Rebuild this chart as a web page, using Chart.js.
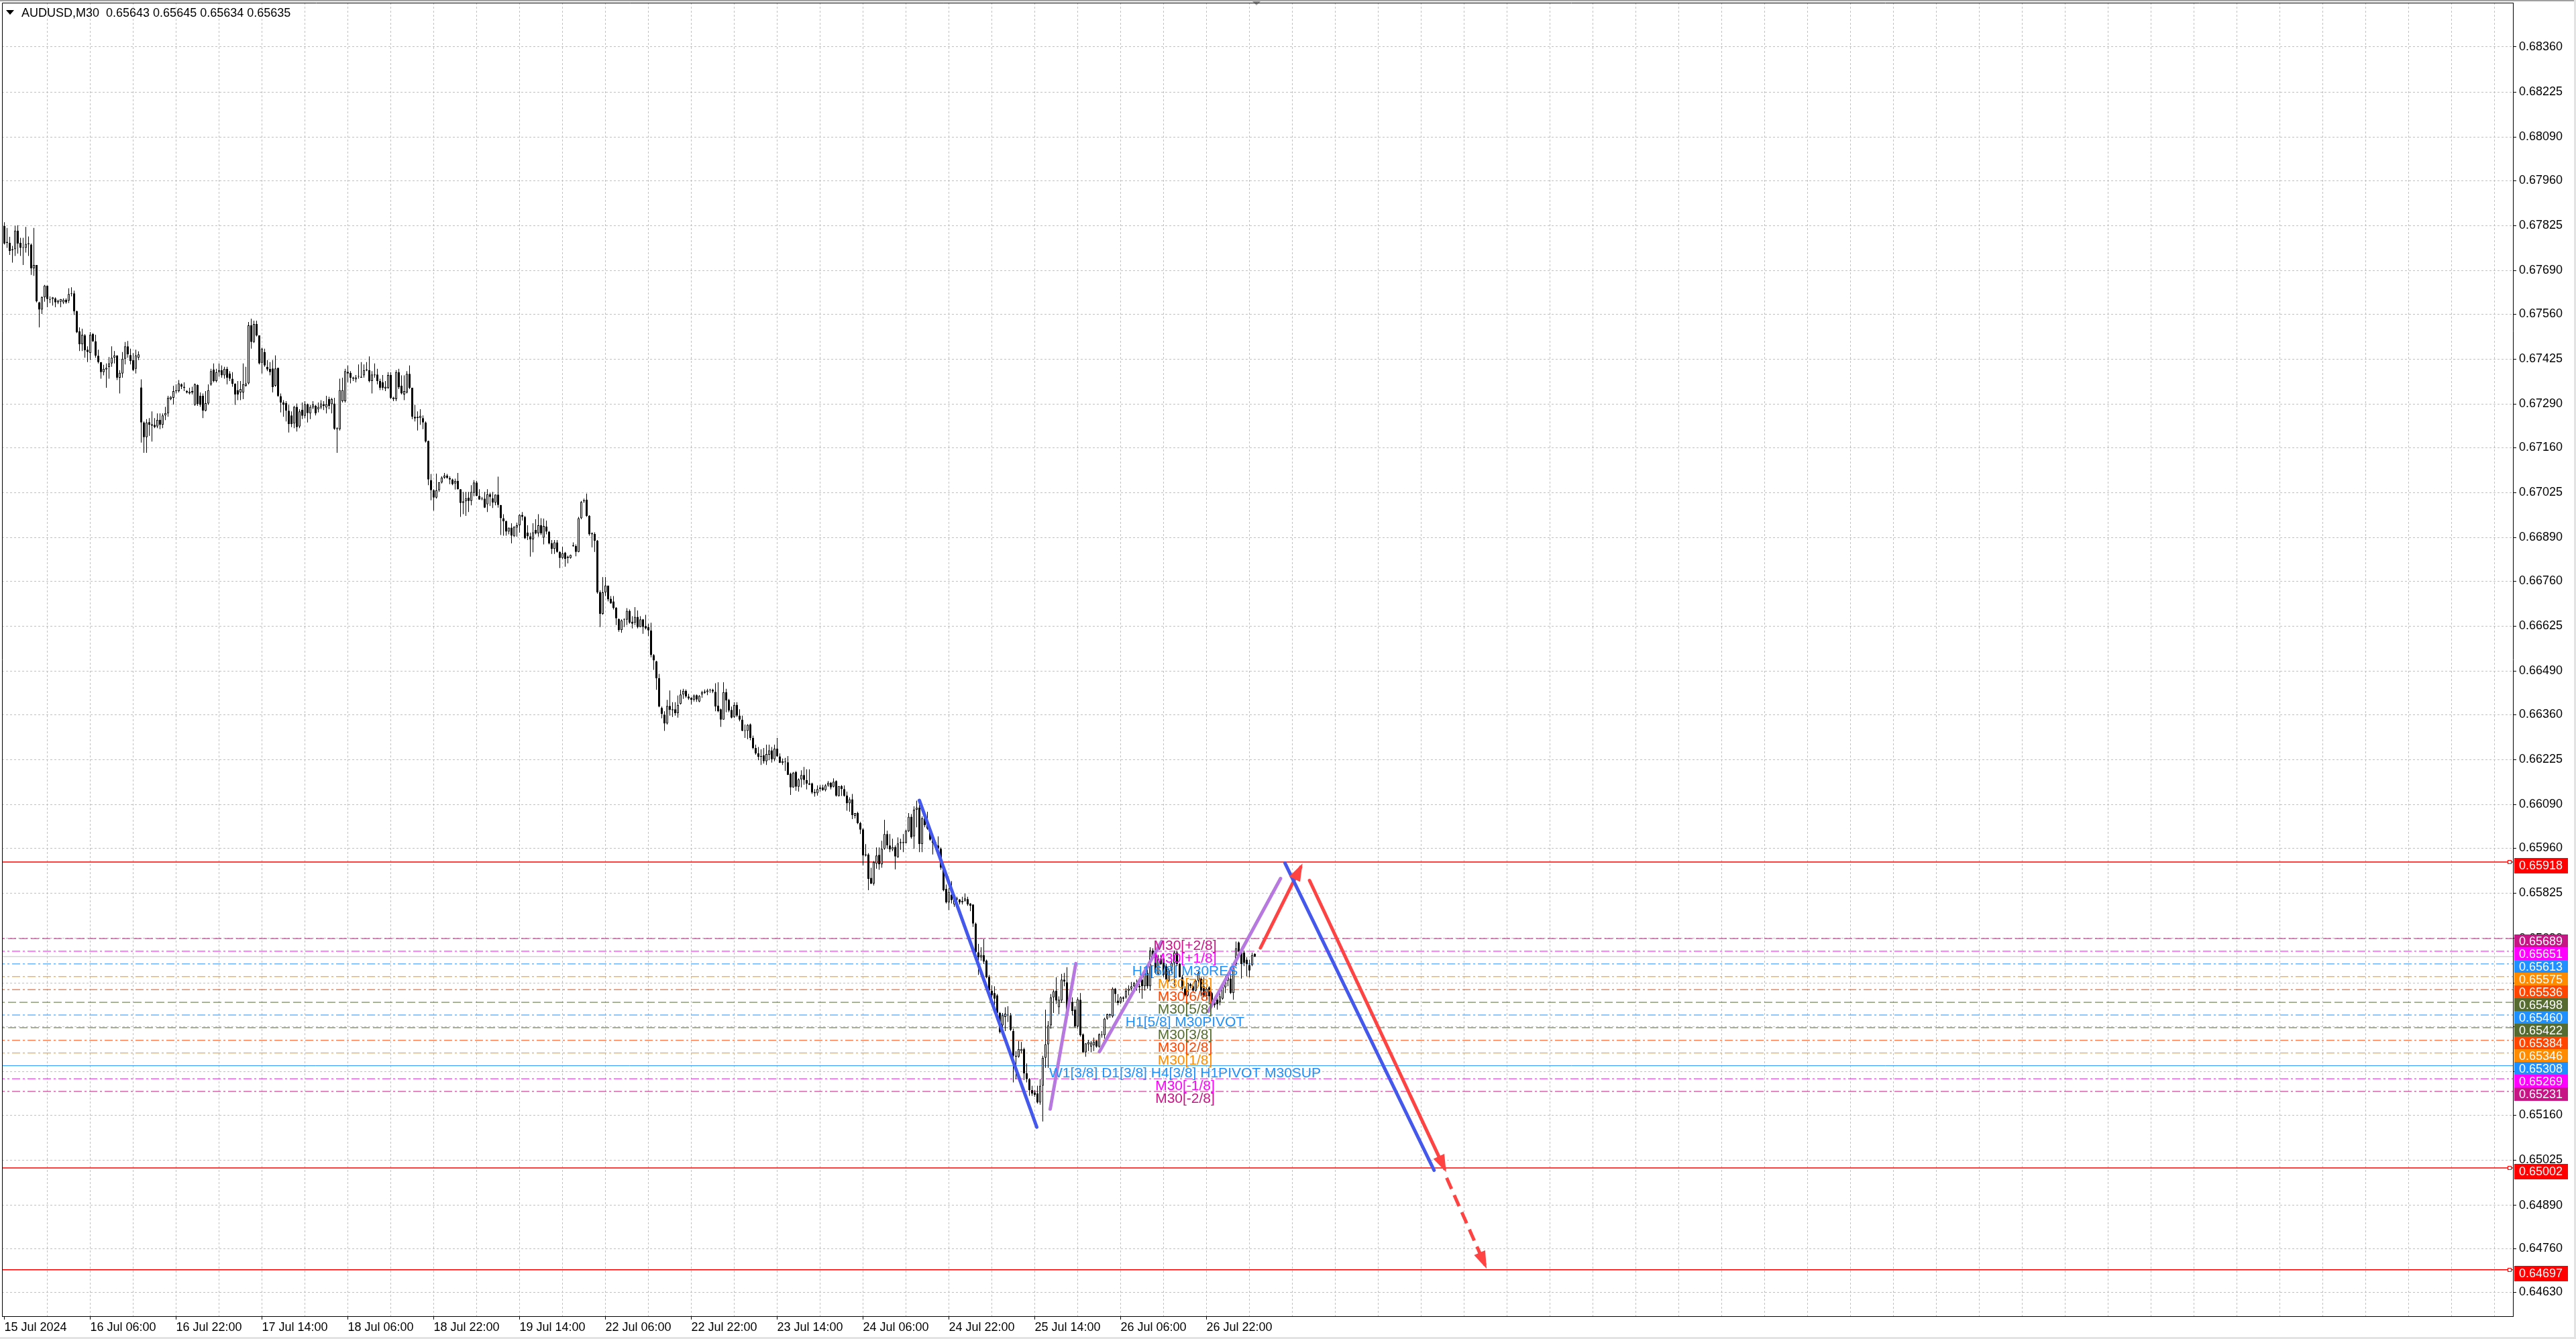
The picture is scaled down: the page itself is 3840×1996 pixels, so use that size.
<!DOCTYPE html>
<html>
<head>
<meta charset="utf-8">
<title>AUDUSD,M30</title>
<script src="https://cdn.jsdelivr.net/npm/chart.js@4.4.1/dist/chart.umd.min.js"></script>
<style>
  html, body { margin: 0; padding: 0; background: #ffffff; overflow: hidden; }
  canvas { display: block; }
</style>
</head>
<body>
<canvas id="chart" width="3840" height="1996"></canvas>
<script>
/* ==========================================================
   DATA
   ========================================================== */

const symbolTitle = "AUDUSD,M30";

// one label every 32 bars, starting at bar 0
const timeLabels = [
    "15 Jul 2024", "16 Jul 06:00", "16 Jul 22:00", "17 Jul 14:00", "18 Jul 06:00",
    "18 Jul 22:00", "19 Jul 14:00", "22 Jul 06:00", "22 Jul 22:00", "23 Jul 14:00",
    "24 Jul 06:00", "24 Jul 22:00", "25 Jul 14:00", "26 Jul 06:00", "26 Jul 22:00"
];

const priceTicks = [
    0.68360, 0.68225, 0.68090, 0.67960, 0.67825, 0.67690, 0.67560, 0.67425,
    0.67290, 0.67160, 0.67025, 0.66890, 0.66760, 0.66625, 0.66490, 0.66360,
    0.66225, 0.66090, 0.65960, 0.65825, 0.65690, 0.65555, 0.65425, 0.65290,
    0.65160, 0.65025, 0.64890, 0.64760, 0.64630
];

// M30 candles, prices in points (1 point = 0.00001)
const opens = [
    67824,67773,67773,67751,67754,67810,67773,67758,67758,67770,
    67768,67697,67707,67595,67573,67610,67645,67605,67605,67607,
    67595,67597,67595,67603,67600,67620,67622,67568,67508,67469,
    67496,67453,67443,67500,67478,67435,67416,67386,67394,67401,
    67412,67429,67436,67369,67382,67426,67463,67437,67422,67396,
    67429,67340,67235,67191,67236,67225,67228,67223,67243,67228,
    67256,67262,67305,67309,67329,67329,67349,67342,67329,67322,
    67329,67288,67347,67315,67315,67270,67292,67349,67394,67359,
    67386,67392,67376,67396,67382,67366,67351,67332,67325,67325,
    67345,67352,67526,67476,67530,67496,67414,67446,67402,67396,
    67397,67345,67399,67314,67295,67293,67270,67256,67232,67282,
    67223,67273,67255,67290,67262,67280,67285,67274,67280,67290,
    67280,67305,67290,67292,67218,67215,67299,67299,67387,67384,
    67369,67364,67372,67369,67376,67391,67392,67359,67379,67379,
    67359,67355,67337,67339,67377,67305,67305,67386,67345,67319,
    67325,67381,67339,67252,67248,67248,67248,67235,67180,67062,
    67032,67010,67032,67055,67070,67076,67069,67064,67052,67060,
    67035,66994,66999,67010,67000,67024,67055,67015,67007,67007,
    66990,67020,67008,66995,67019,66988,66948,66939,66908,66920,
    66894,66920,66927,66958,66952,66905,66894,66885,66913,66903,
    66927,66890,66923,66908,66874,66856,66876,66847,66829,66845,
    66833,66829,66866,66865,66847,66948,66999,67004,66955,66900,
    66901,66881,66727,66662,66726,66746,66707,66699,66680,66646,
    66613,66646,66644,66671,66638,66635,66653,66622,66645,66625,
    66622,66612,66538,66519,66469,66380,66360,66333,66386,66376,
    66376,66364,66392,66420,66431,66414,66410,66404,66418,66399,
    66420,66425,66427,66432,66434,66428,66387,66376,66345,66427,
    66404,66374,66353,66389,66357,66345,66313,66311,66330,66290,
    66260,66244,66233,66238,66220,66240,66253,66226,66258,66235,
    66215,66217,66217,66183,66142,66188,66144,66166,66179,66164,
    66154,66154,66128,66124,66137,66142,66134,66148,66156,66144,
    66161,66116,66146,66137,66117,66094,66106,66057,66065,66035,
    66016,65938,65941,65871,65854,65913,65940,65911,65958,66002,
    65968,65956,65963,65933,65978,65975,65975,66010,66054,65995,
    66075,66081,65972,66049,66029,66018,65985,65978,65968,65958,
    65901,65838,65797,65821,65791,65806,65806,65797,65802,65807,
    65794,65791,65734,65648,65633,65639,65623,65574,65533,65526,
    65519,65466,65429,65454,65459,65459,65412,65338,65335,65352,
    65358,65285,65268,65235,65228,65225,65198,65248,65332,65372,
    65429,65513,65533,65483,65503,65566,65558,65513,65499,65476,
    65426,65506,65402,65348,65372,65365,65369,65382,65365,65399,
    65399,65449,65459,65456,65539,65503,65499,65513,65513,65533,
    65539,65546,65556,65543,65566,65546,65586,65546,65653,65640,
    65583,65630,65630,65606,65563,65593,65616,65647,65613,65573,
    65539,65519,65553,65546,65533,65563,65569,65546,65516,65543,
    65526,65499,65506,65499,65509,65543,65563,65569,65526,65613,
    65677,65650,65647,65626,65610,65610,65643
];

const highs = [
    67835,67818,67791,67764,67824,67826,67788,67788,67821,67792,
    67771,67818,67707,67597,67613,67647,67645,67613,67611,67610,
    67603,67605,67607,67607,67637,67640,67630,67570,67520,67516,
    67500,67463,67506,67503,67498,67453,67416,67408,67412,67431,
    67463,67449,67436,67392,67446,67476,67479,67456,67443,67453,
    67448,67364,67238,67245,67248,67268,67248,67262,67262,67262,
    67282,67315,67314,67345,67349,67362,67352,67355,67332,67339,
    67342,67352,67349,67325,67322,67329,67349,67396,67412,67396,
    67412,67406,67402,67402,67389,67386,67352,67359,67359,67412,
    67402,67536,67546,67540,67540,67496,67459,67456,67422,67416,
    67422,67436,67399,67322,67302,67299,67288,67268,67285,67292,
    67275,67295,67299,67292,67288,67299,67288,67295,67302,67299,
    67315,67312,67309,67309,67221,67366,67369,67396,67406,67389,
    67372,67377,67409,67416,67409,67416,67433,67389,67412,67396,
    67366,67377,67359,67386,67386,67312,67392,67396,67376,67376,
    67389,67406,67339,67288,67268,67275,67256,67238,67181,67081,
    67035,67082,67056,67074,67084,67081,67074,67067,67067,67084,
    67035,67027,67027,67027,67047,67062,67060,67035,67012,67027,
    67035,67024,67027,67019,67073,66988,66960,66941,66920,66933,
    66923,66935,66960,66967,66955,66927,66905,66933,66945,66960,
    66948,66947,66941,66910,66883,66883,66883,66849,66863,66847,
    66836,66839,66876,66870,66952,67000,67007,67022,66957,66906,
    66906,66883,66732,66772,66772,66746,66715,66715,66682,66648,
    66645,66648,66679,66675,66655,66682,66672,66655,66646,66659,
    66632,66635,66541,66521,66482,66384,66370,66404,66432,66397,
    66397,66417,66434,66437,66435,66422,66412,66420,66420,66418,
    66431,66435,66437,66437,66437,66454,66457,66378,66457,66437,
    66407,66384,66397,66397,66376,66357,66330,66331,66333,66297,
    66270,66263,66256,66260,66270,66270,66263,66270,66290,66244,
    66228,66230,66236,66186,66188,66191,66169,66193,66203,66196,
    66196,66156,66137,66148,66149,66150,66152,66161,66158,66169,
    66163,66146,66149,66148,66129,66112,66122,66065,66069,66039,
    66020,65972,65945,65901,65921,65962,65962,65982,66045,66012,
    66002,65988,65968,65992,65988,66002,66015,66065,66062,66085,
    66102,66090,66055,66065,66069,66022,65995,65982,65995,65962,
    65908,65851,65841,65861,65821,65814,65807,65814,65824,65814,
    65795,65791,65737,65673,65663,65687,65626,65580,65549,65546,
    65523,65469,65466,65483,65486,65466,65419,65352,65382,65379,
    65362,65315,65271,65248,65235,65248,65268,65338,65476,65442,
    65523,65536,65573,65516,65583,65586,65603,65526,65513,65486,
    65513,65526,65405,65375,65385,65382,65392,65385,65405,65412,
    65452,65464,65464,65543,65541,65523,65516,65516,65541,65549,
    65559,65559,65566,65559,65580,65600,65613,65663,65660,65647,
    65640,65640,65640,65613,65600,65620,65653,65653,65616,65580,
    65546,65556,65556,65549,65566,65590,65573,65573,65543,65546,
    65529,65513,65513,65526,65553,65576,65586,65580,65616,65680,
    65680,65653,65653,65633,65626,65647,65645
];

const lows = [
    67768,67758,67737,67714,67734,67741,67734,67707,67744,67734,
    67677,67674,67595,67520,67560,67597,67580,67593,67585,67580,
    67590,67580,67590,67591,67593,67613,67557,67503,67449,67449,
    67429,67416,67422,67476,67429,67412,67366,67376,67339,67366,
    67402,67412,67362,67322,67369,67409,67429,67409,67389,67382,
    67422,67175,67144,67144,67195,67178,67218,67218,67215,67218,
    67242,67252,67302,67289,67322,67325,67335,67329,67322,67319,
    67319,67285,67285,67282,67248,67268,67288,67345,67355,67355,
    67372,67369,67366,67349,67359,67342,67288,67302,67302,67305,
    67342,67349,67456,67473,67493,67409,67382,67402,67389,67376,
    67325,67342,67312,67265,67252,67238,67205,67221,67218,67208,
    67218,67245,67248,67235,67245,67275,67256,67265,67275,67272,
    67262,67275,67262,67213,67144,67211,67295,67295,67355,67352,
    67359,67355,67366,67369,67369,67389,67355,67322,67369,67349,
    67332,67332,67329,67335,67305,67299,67299,67335,67319,67302,
    67322,67335,67245,67238,67211,67228,67215,67175,67047,67002,
    66971,67007,67027,67052,67066,67067,67050,67047,67034,67034,
    66952,66960,66955,66967,66987,67014,67014,67004,67002,66979,
    66967,66985,66979,66987,66980,66898,66896,66896,66900,66873,
    66893,66893,66905,66941,66886,66883,66833,66846,66900,66893,
    66898,66870,66900,66870,66841,66841,66845,66799,66826,66803,
    66813,66827,66863,66834,66846,66945,66994,66952,66896,66861,
    66847,66722,66622,66659,66715,66699,66692,66675,66628,66608,
    66605,66622,66628,66632,66618,66628,66618,66622,66602,66615,
    66595,66531,66494,66434,66382,66349,66311,66330,66357,66353,
    66357,66351,66390,66407,66410,66404,66390,66399,66398,66397,
    66410,66422,66418,66425,66424,66370,66367,66323,66345,66367,
    66367,66349,66350,66353,66340,66310,66290,66286,66283,66256,
    66240,66223,66209,66213,66209,66223,66216,66220,66233,66215,
    66209,66191,66179,66119,66141,66132,66129,66142,66150,66136,
    66149,66122,66114,66117,66129,66132,66130,66144,66136,66142,
    66114,66114,66116,66114,66072,66069,66047,66049,66032,66002,
    65908,65935,65834,65853,65848,65898,65895,65901,65955,65958,
    65948,65951,65896,65931,65955,65948,65974,66008,65988,65958,
    66022,65948,65948,66022,66015,65982,65941,65962,65945,65895,
    65831,65794,65774,65794,65784,65801,65791,65791,65799,65787,
    65771,65724,65643,65580,65623,65613,65570,65526,65503,65486,
    65466,65405,65419,65412,65439,65412,65258,65268,65332,65345,
    65265,65258,65218,65218,65215,65195,65191,65141,65302,65302,
    65419,65466,65493,65462,65496,65546,65466,65493,65459,65422,
    65419,65395,65348,65335,65352,65348,65352,65362,65362,65392,
    65389,65446,65452,65452,65499,65489,65493,65499,65509,65519,
    65533,65543,65533,65526,65509,65533,65539,65533,65626,65583,
    65580,65610,65573,65559,65559,65586,65546,65606,65573,65533,
    65516,65516,65540,65530,65530,65546,65516,65513,65506,65499,
    65492,65482,65476,65489,65506,65526,65546,65523,65506,65606,
    65636,65569,65606,65576,65573,65606,65634
];

const closes = [
    67771,67776,67749,67754,67810,67771,67758,67758,67770,67769,
    67697,67707,67598,67573,67611,67645,67605,67603,67610,67595,
    67600,67605,67603,67595,67620,67622,67568,67505,67469,67498,
    67451,67446,67498,67478,67435,67416,67386,67396,67399,67412,
    67429,67436,67369,67384,67426,67463,67439,67419,67392,67436,
    67439,67235,67191,67235,67228,67230,67221,67243,67228,67256,
    67263,67309,67312,67329,67329,67352,67342,67339,67325,67327,
    67325,67349,67290,67288,67270,67293,67332,67389,67359,67386,
    67392,67376,67396,67369,67366,67351,67319,67319,67335,67349,
    67352,67526,67476,67530,67496,67412,67456,67406,67394,67386,
    67341,67397,67314,67295,67288,67270,67230,67230,67282,67221,
    67268,67255,67290,67263,67282,67290,67262,67282,67292,67285,
    67290,67285,67305,67216,67215,67332,67332,67389,67382,67369,
    67366,67370,67372,67372,67392,67394,67359,67379,67376,67359,
    67339,67339,67342,67377,67309,67310,67386,67340,67322,67329,
    67381,67339,67252,67247,67252,67255,67235,67178,67064,67032,
    67010,67032,67056,67070,67076,67069,67064,67050,67060,67035,
    66994,66999,67008,67000,67027,67055,67015,67004,67005,66980,
    67020,67012,66995,67019,66988,66948,66939,66908,66920,66896,
    66923,66927,66958,66952,66888,66894,66885,66906,66903,66927,
    66903,66925,66908,66873,66856,66876,66847,66829,66843,66826,
    66829,66838,66865,66847,66948,66997,67002,66955,66900,66903,
    66881,66726,66662,66726,66746,66705,66693,66679,66648,66613,
    66642,66644,66671,66635,66632,66653,66622,66645,66622,66618,
    66612,66538,66522,66469,66384,66362,66333,66386,66374,66373,
    66364,66389,66420,66431,66414,66408,66404,66417,66405,66416,
    66427,66429,66432,66434,66429,66384,66370,66345,66427,66402,
    66372,66351,66389,66357,66345,66311,66311,66329,66290,66260,
    66244,66233,66236,66220,66242,66253,66226,66258,66235,66215,
    66220,66217,66179,66142,66186,66144,66166,66179,66164,66153,
    66150,66126,66124,66137,66142,66134,66148,66156,66142,66159,
    66117,66146,66137,66116,66094,66106,66059,66065,66035,66015,
    65938,65941,65868,65853,65918,65938,65911,65958,66002,65968,
    65956,65963,65935,65974,65975,65978,66012,66054,65992,66075,
    66081,65972,66049,66029,66018,65985,65975,65962,65958,65901,
    65834,65797,65829,65804,65806,65809,65797,65802,65809,65791,
    65787,65734,65648,65633,65640,65620,65573,65533,65519,65509,
    65466,65409,65459,65464,65460,65416,65338,65335,65358,65358,
    65285,65268,65235,65225,65221,65198,65248,65332,65372,65429,
    65513,65531,65503,65506,65566,65560,65472,65499,65472,65426,
    65507,65399,65348,65375,65379,65377,65380,65365,65402,65399,
    65449,65462,65462,65539,65523,65496,65513,65509,65533,65539,
    65546,65556,65543,65547,65546,65586,65546,65653,65636,65586,
    65630,65613,65580,65566,65593,65616,65647,65613,65573,65539,
    65519,65556,65546,65533,65563,65586,65533,65516,65539,65516,
    65506,65489,65492,65516,65546,65563,65573,65526,65613,65660,
    65650,65613,65616,65613,65593,65640,65635
];

// horizontal support / resistance (red) and current bid
const keyLevels = [0.65918, 0.65002, 0.64697];
const bidPrice = 0.65635;

// Murrey math levels
const levelPrices = [
    0.65689, 0.65651, 0.65613, 0.65575, 0.65536, 0.65498, 0.65460,
    0.65422, 0.65384, 0.65346, 0.65308, 0.65269, 0.65231
];
const levelNames = [
    "M30[+2/8]", "M30[+1/8]", "H1[6/8] M30RES", "M30[7/8]", "M30[6/8]",
    "M30[5/8]", "H1[5/8] M30PIVOT", "M30[3/8]", "M30[2/8]", "M30[1/8]",
    "W1[3/8] D1[3/8] H4[3/8] H1PIVOT M30SUP", "M30[-1/8]", "M30[-2/8]"
];

// drawn wave legs: [bar, price] pairs
const blueLegs = [
    [[341.0, 0.66103], [384.75, 0.65124]],
    [[477.25, 0.65915], [532.8, 0.64995]]
];
const purpleLegs = [
    [[389.75, 0.65178], [399.3, 0.65614]],
    [[408.1, 0.65350], [431.25, 0.65680]],
    [[448.7, 0.65471], [475.6, 0.65869]]
];
const redLegs = [
    [[468.1, 0.65661], [483.1, 0.65903]],
    [[486.4, 0.65863], [536.7, 0.65000]]
];
const redDashedLeg = [[537.5, 0.64972], [551.8, 0.64711]];

/* ==========================================================
   STYLE
   ========================================================== */

const FONT = '"Liberation Sans", Arial, sans-serif';
const X_MIN = -0.875;
const X_MAX = 934.875;
const Y_MIN = 0.645577;
const Y_MAX = 0.684926;
const LABEL_BAR = 440;

const DASH = [12, 5];
const DASHDOT = [12, 4, 3, 4];

const levelColors = [
    "#C71585", "#FF00FF", "#1E90FF", "#FF8C00", "#FF4500", "#556B2F", "#1E90FF",
    "#556B2F", "#FF4500", "#FF8C00", "#1E90FF", "#FF00FF", "#C71585"
];
const levelDashes = [
    DASH, DASHDOT, DASHDOT, DASHDOT, DASHDOT, DASH, DASHDOT,
    DASH, DASHDOT, DASHDOT, [], DASHDOT, DASHDOT
];

const BLUE = "#4458EE";
const PURPLE = "#B779E0";
const RED = "#FF4242";

/* ==========================================================
   DATASETS
   ========================================================== */

const toPrice = v => v / 100000;
const fmt = v => v.toFixed(5);

const gridBars = [];
for (let b = 0; b <= 928; b += 16) {
    gridBars.push(b);
}

function labelAt(value) {
    const k = value / 32;
    if (Number.isInteger(k) && k < timeLabels.length) {
        return timeLabels[k];
    }
    return "";
}

function hLine(price, color, width, dash) {
    return {
        type: "line",
        order: 4,
        data: [{ x: X_MIN - 2, y: price }, { x: X_MAX + 2, y: price }],
        borderColor: color,
        borderWidth: width,
        borderDash: dash,
        pointRadius: 0,
        fill: false
    };
}

function leg(points, color, dash) {
    return {
        type: "line",
        order: 0,
        data: points.map(p => ({ x: p[0], y: p[1] })),
        borderColor: color,
        borderWidth: 5,
        borderDash: dash || [],
        borderCapStyle: dash ? "butt" : "round",
        pointRadius: 0,
        fill: false,
        tension: 0
    };
}

const datasets = [];

datasets.push({
    type: "bar",
    order: 3,
    grouped: false,
    data: opens.map((o, i) => ({ x: i, y: [toPrice(lows[i]), toPrice(highs[i])] })),
    backgroundColor: "#000000",
    borderWidth: 0,
    barThickness: 1,
    inflateAmount: 0
});

datasets.push({
    type: "bar",
    order: 2,
    grouped: false,
    data: opens.map((o, i) => ({ x: i, y: [toPrice(o), toPrice(closes[i])] })),
    backgroundColor: c => closes[c.dataIndex] > opens[c.dataIndex] ? "#ffffff" : "#000000",
    borderColor: "#000000",
    borderWidth: 1,
    borderSkipped: false,
    barThickness: 3,
    minBarLength: 1,
    inflateAmount: 0
});

levelPrices.forEach((p, k) => {
    datasets.push(hLine(p, levelColors[k], 1, levelDashes[k]));
});
datasets.push(hLine(bidPrice, "#C0C0C0", 1, []));
keyLevels.forEach(p => {
    datasets.push(hLine(p, "#FF0000", 1.5, []));
});

blueLegs.forEach(l => datasets.push(leg(l, BLUE)));
purpleLegs.forEach(l => datasets.push(leg(l, PURPLE)));
redLegs.forEach(l => datasets.push(leg(l, RED)));
datasets.push(leg(redDashedLeg, RED, [18, 10]));

/* ==========================================================
   OVERLAY: arrow heads, level names, price tags, frame
   ========================================================== */

const overlay = {

    id: "overlay",

    afterDatasetsDraw(chart) {

        const { ctx, scales: { x, y } } = chart;

        ctx.save();

        // arrow heads on the red legs
        ctx.fillStyle = RED;
        [redLegs[0], redLegs[1], redDashedLeg].forEach(l => {
            const x0 = x.getPixelForValue(l[0][0]);
            const y0 = y.getPixelForValue(l[0][1]);
            const x1 = x.getPixelForValue(l[1][0]);
            const y1 = y.getPixelForValue(l[1][1]);
            const a = Math.atan2(y1 - y0, x1 - x0);
            const cx = Math.cos(a), sy = Math.sin(a);
            const tx = x1 + cx * 6, ty = y1 + sy * 6;
            const bx = tx - cx * 26, by = ty - sy * 26;
            ctx.beginPath();
            ctx.moveTo(tx, ty);
            ctx.lineTo(bx - sy * 9, by + cx * 9);
            ctx.lineTo(bx + sy * 9, by - cx * 9);
            ctx.closePath();
            ctx.fill();
        });

        // level names
        ctx.font = "21px " + FONT;
        ctx.textAlign = "center";
        ctx.textBaseline = "alphabetic";
        const lx = x.getPixelForValue(LABEL_BAR);
        levelPrices.forEach((p, k) => {
            ctx.fillStyle = levelColors[k];
            ctx.fillText(levelNames[k], lx, y.getPixelForValue(p) + 17);
        });

        ctx.restore();

    },

    afterDraw(chart) {

        const { ctx, chartArea: area, scales: { y } } = chart;

        ctx.save();

        // window edges
        ctx.fillStyle = "#A0A0A0";
        ctx.fillRect(0, 0, 3840, 2);
        ctx.fillStyle = "#E3E3E3";
        ctx.fillRect(3837, 0, 3, 1996);
        ctx.fillRect(0, 1993, 3840, 3);

        // chart shift marker
        ctx.fillStyle = "#A0A0A0";
        ctx.beginPath();
        ctx.moveTo(1867, 2);
        ctx.lineTo(1879, 2);
        ctx.lineTo(1873, 8);
        ctx.closePath();
        ctx.fill();

        // left and top frame
        ctx.strokeStyle = "#000000";
        ctx.lineWidth = 1;
        ctx.beginPath();
        ctx.moveTo(area.left + 0.5, area.bottom);
        ctx.lineTo(area.left + 0.5, area.top + 0.5);
        ctx.lineTo(area.right, area.top + 0.5);
        ctx.stroke();

        // end squares of the red lines
        ctx.strokeStyle = "#FF0000";
        ctx.fillStyle = "#FFFFFF";
        keyLevels.forEach(p => {
            const py = Math.round(y.getPixelForValue(p));
            ctx.fillRect(area.right - 7, py - 2, 5, 5);
            ctx.strokeRect(area.right - 7.5, py - 2.5, 5, 5);
        });

        // price tags on the axis
        ctx.font = "18px " + FONT;
        ctx.textAlign = "left";
        ctx.textBaseline = "middle";
        const tags = levelPrices.map((p, k) => ({ p: p, c: levelColors[k], h: 20 }))
            .concat(keyLevels.map(p => ({ p: p, c: "#FF0000", h: 23 })));
        tags.forEach(t => {
            const top = Math.round(y.getPixelForValue(t.p)) - 6;
            ctx.fillStyle = t.c;
            ctx.fillRect(area.right + 2, top, 80, t.h);
            ctx.fillStyle = "#FFFFFF";
            ctx.fillText(fmt(t.p), area.right + 9, top + t.h / 2 + 1);
        });

        // header
        const last = opens.length - 1;
        ctx.fillStyle = "#000000";
        ctx.beginPath();
        ctx.moveTo(9, 15);
        ctx.lineTo(21, 15);
        ctx.lineTo(15, 22);
        ctx.closePath();
        ctx.fill();
        ctx.textBaseline = "middle";
        ctx.fillText(
            symbolTitle + "  " + fmt(toPrice(opens[last])) + " " + fmt(toPrice(highs[last])) +
            " " + fmt(toPrice(lows[last])) + " " + fmt(toPrice(closes[last])),
            32, 20
        );

        ctx.restore();

    }

};

/* ==========================================================
   CHART
   ========================================================== */

Chart.defaults.font.family = FONT;

new Chart(document.getElementById("chart"), {

    type: "bar",

    data: { datasets: datasets },

    options: {

        responsive: false,
        animation: false,
        devicePixelRatio: 1,
        events: [],

        layout: {
            padding: { left: 3, top: 4, right: 0, bottom: 0 }
        },

        plugins: {
            legend: { display: false },
            tooltip: { enabled: false }
        },

        scales: {

            x: {
                type: "linear",
                min: X_MIN,
                max: X_MAX,
                offset: false,
                afterBuildTicks: s => {
                    s.ticks = gridBars.map(v => ({ value: v }));
                },
                afterFit: s => {
                    s.height = 34;
                    s.paddingLeft = 0;
                    s.paddingRight = 0;
                },
                grid: {
                    offset: false,
                    lineWidth: 1,
                    color: c => (c.tick && c.tick.value === 0) ? "rgba(0,0,0,0)" : "#C0C0C0",
                    tickLength: 5,
                    tickWidth: 1,
                    tickBorderDash: [],
                    tickColor: c => (c.tick && labelAt(c.tick.value)) ? "#000000" : "rgba(0,0,0,0)"
                },
                border: { display: true, color: "#000000", width: 1, dash: [3, 3] },
                ticks: {
                    autoSkip: false,
                    maxRotation: 0,
                    minRotation: 0,
                    align: "start",
                    padding: 1,
                    color: "#000000",
                    font: { family: FONT, size: 18 },
                    callback: v => labelAt(v)
                }
            },

            y: {
                type: "linear",
                position: "right",
                min: Y_MIN,
                max: Y_MAX,
                afterBuildTicks: s => {
                    s.ticks = priceTicks.map(v => ({ value: v }));
                },
                afterFit: s => {
                    s.width = 94;
                    s.paddingTop = 0;
                    s.paddingBottom = 0;
                },
                grid: {
                    lineWidth: 1,
                    color: "#C0C0C0",
                    tickLength: 5,
                    tickWidth: 1,
                    tickBorderDash: [],
                    tickColor: "#000000"
                },
                border: { display: true, color: "#000000", width: 1, dash: [3, 3] },
                ticks: {
                    padding: 4,
                    color: "#000000",
                    font: { family: FONT, size: 18 },
                    callback: v => fmt(v)
                }
            }

        }

    },

    plugins: [overlay]

});
</script>
</body>
</html>
